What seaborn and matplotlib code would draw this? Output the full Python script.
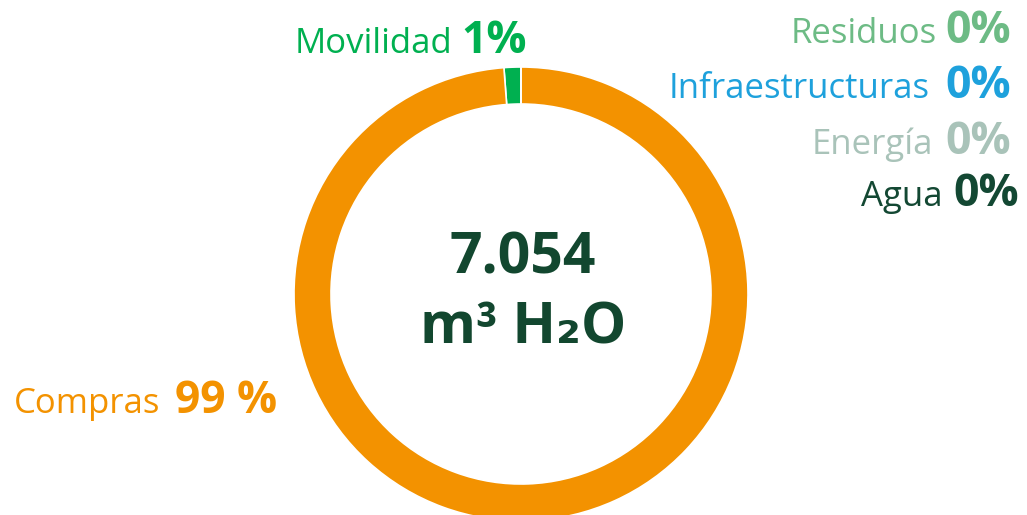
import matplotlib.pyplot as plt
import seaborn as sns

# share of water footprint (%), read from the ring
categories = ["Movilidad", "Compras", "Residuos", "Infraestructuras", "Energía", "Agua"]
values = [1.2, 98.8, 0.0, 0.0, 0.0, 0.0]
labels_pct = ["1%", "99 %", "0%", "0%", "0%", "0%"]
colors = ["#00b050", "#f39200", "#6dbb85", "#1ea1dc", "#a9c3b9", "#134833"]
total_text = "7.054"
unit_text = "m³ H₂O"

W, H = 1027, 515

sns.set_theme(style="white")
plt.rcParams["font.family"] = ["Open Sans", "DejaVu Sans"]

fig = plt.figure(figsize=(W / 100, H / 100), dpi=100)
ax = fig.add_axes([0, 0, 1, 1])

cx, cy, r_out, ring = 521, 294, 227, 37
ax.pie(values, colors=colors, startangle=90, counterclock=True,
       center=(cx, H - cy), radius=r_out,
       wedgeprops=dict(width=ring, edgecolor="white", linewidth=1.2))
ax.set_xlim(0, W)
ax.set_ylim(0, H)
ax.set_aspect("equal")
ax.axis("off")


def put(x, y, s, color, size, weight="normal", ha="left"):
    fig.text(x / W, 1 - y / H, s, color=color, fontsize=size,
             fontweight=weight, ha=ha, va="baseline")


lab_size, pct_size = 25, 32

# label name right edge / percent left edge / baseline (pixels)
pos = {
    "Movilidad": (452, 461, 53),
    "Compras": (160, 175, 413),
    "Residuos": (937, 945, 43),
    "Infraestructuras": (930, 945, 98),
    "Energía": (933, 945, 154),
    "Agua": (943, 953, 206),
}

for cat, pct, col in zip(categories, labels_pct, colors):
    xl, xp, yb = pos[cat]
    put(xl, yb, cat, col, lab_size, ha="right")
    put(xp, yb, pct, col, pct_size, weight="bold")

put(cx + 2, 273, total_text, "#12472f", 41, weight="bold", ha="center")
put(cx + 2, 343, unit_text, "#12472f", 41, weight="bold", ha="center")

fig.savefig("out.png", dpi=100, facecolor="white")
